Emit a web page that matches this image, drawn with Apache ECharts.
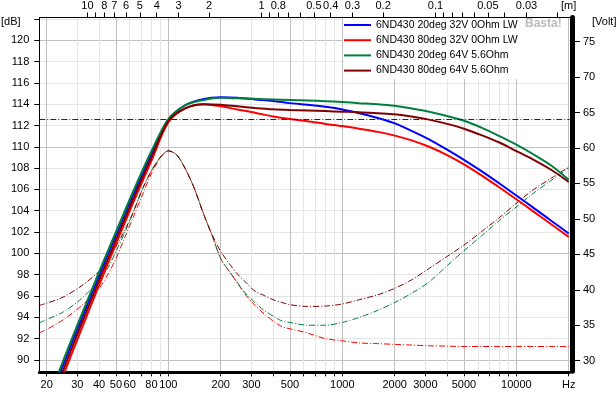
<!DOCTYPE html>
<html><head><meta charset="utf-8">
<script src="https://cdn.jsdelivr.net/npm/echarts@6/dist/echarts.min.js"></script>
<style>html,body{margin:0;padding:0;background:#fff}#c{width:616px;height:399px}</style>
</head><body><div id="c"></div>
<script>
// ---- data ----
const FREQ = [20,25,30,40,50,63,80,100,125,160,200,250,315,400,500,630,800,1000,1250,1600,2000,2500,3150,4000,5000,6300,8000,10000,12500,16000,20000];
const SPL_BLUE    = [85.5,89.6,92.85,97.9,101.7,105.55,109.35,112.5,113.9,114.5,114.65,114.6,114.45,114.3,114.1,113.95,113.75,113.5,113.15,112.7,112.2,111.5,110.7,109.73,108.77,107.71,106.55,105.43,104.29,103.01,101.86];
const SPL_RED     = [84.5,88.6,91.9,97.0,100.85,104.8,108.7,112.3,113.6,114.0,113.8,113.5,113.2,112.85,112.6,112.4,112.15,111.95,111.7,111.4,111.05,110.6,110.0,109.22,108.35,107.32,106.18,105.07,103.94,102.68,101.54];
const SPL_GREEN   = [85.9,90.0,93.25,98.25,102.0,105.85,109.6,112.6,113.9,114.4,114.6,114.55,114.5,114.45,114.4,114.35,114.28,114.2,114.1,114.0,113.85,113.6,113.3,112.9,112.45,111.8,111.0,110.2,109.3,108.2,106.9];
const SPL_DARKRED = [85.0,89.1,92.4,97.45,101.25,105.15,109.0,112.4,113.6,114.0,113.95,113.8,113.65,113.52,113.45,113.4,113.35,113.3,113.25,113.15,113.05,112.85,112.55,112.15,111.7,111.1,110.4,109.6,108.8,107.8,106.7];

const VFREQ = [18,20,25,31.5,40,45,50,56,63,71,80,90,100,112,125,140,160,180,200,224,250,280,315,355,400,450,500,630,800,1000,1250,1600,2000,2500,3150,4000,5000,6300,8000,10000,12500,16000,20000];
const VOLT_DARKRED = [37.8,38.1,39.0,40.5,42.6,44.2,46.1,48.3,51.0,54.2,56.8,58.7,59.6,59.0,57.1,54.5,50.6,47.6,45.4,43.7,42.2,41.0,39.8,39.2,38.6,38.2,37.9,37.65,37.7,38.0,38.6,39.3,40.2,41.4,43.0,44.7,46.3,48.2,50.2,52.2,54.1,55.8,57.3];
const VOLT_GREEN   = [35.3,35.8,36.9,38.7,41.3,43.1,45.4,48.0,51.0,54.2,56.8,58.7,59.6,59.0,57.1,54.5,50.6,47.4,44.4,42.6,41.0,39.4,38.2,37.1,36.3,35.6,35.4,35.0,35.0,35.4,36.1,37.1,38.2,39.5,41.1,43.4,45.5,47.6,49.8,51.7,53.6,55.5,57.2];
const VOLT_RED     = [33.9,34.4,35.8,37.7,40.2,42.2,44.4,47.3,50.3,53.4,56.4,58.6,59.6,59.0,57.1,54.5,50.6,47.4,44.4,42.6,40.9,39.2,37.8,36.6,35.6,34.8,34.5,33.9,33.1,32.8,32.5,32.4,32.3,32.2,32.1,32.05,32.0,32.0,32.0,32.0,32.0,32.0,32.0];
const VOLT_LIMIT = 64;

const NAMES = ['6ND430 20deg 32V 0Ohm LW','6ND430 80deg 32V 0Ohm LW','6ND430 20deg 64V 5.6Ohm','6ND430 80deg 64V 5.6Ohm'];

const X_TICKS = [20,30,40,50,60,70,80,90,100,200,300,400,500,600,700,800,900,1000,2000,3000,4000,5000,6000,7000,8000,9000,10000,20000];
const X_MAJOR = [20,50,100,200,500,1000,2000,5000,10000,20000];
const X_LABELS = [20,30,40,50,60,80,100,200,300,500,1000,2000,3000,5000,10000,20000];
const X_LABEL_TEXT = ['20','30','40','50','60','80','100','200','300','500','1000','2000','3000','5000','10000','Hz'];
const WL_TICKS = [10,9,8,7,6,5,4,3,2,1,0.9,0.8,0.7,0.6,0.5,0.4,0.3,0.2,0.1,0.09,0.08,0.07,0.06,0.05,0.04,0.03,0.02];
const WL_LABELS = [10,8,7,6,5,4,3,2,1,0.8,0.5,0.4,0.3,0.2,0.1,0.05,0.03];
const SOUND_SPEED = 343;
const DB_TICKS = [90,92,94,96,98,100,102,104,106,108,110,112,114,116,118,120,122];
const DB_MAJOR = [90,100,110,120];
const DB_LABELS = [90,92,94,96,98,100,102,104,106,108,110,112,114,116,118,120];
const V_TICKS = [30,35,40,45,50,55,60,65,70,75];

const F_MIN = 18.14, F_MAX = 20200;
const DB_MIN = 88.92, DB_MAX = 122.14;
const V_MIN = 28.5, V_MAX = 78.41;

// ---- build ----
const L = Math.log10;
const near = (arr, v) => arr.findIndex(a => Math.abs(a - v) < 1e-6);
const xT = X_TICKS.map(L);
const xLab = X_LABELS.map(L);
const wlT = WL_TICKS.map(w => L(SOUND_SPEED / w));
const wlLab = WL_LABELS.map(w => L(SOUND_SPEED / w));
const DARK = '#c0c0c0', LIGHT = '#e6e6e6';
const FONT = '"Liberation Sans", Arial, sans-serif';
const lbl = {color:'#000', fontSize:11, fontFamily:FONT};

const pts = (fs, vs) => fs.map((f, i) => [L(f), vs[i]]);
const DASHDOT = [6,2,1,2];
const COLORS = ['#0000ff','#ff0000','#008040','#800000'];
const SM = 0.3;

const chart = echarts.init(document.getElementById('c'), null, {renderer:'canvas'});
chart.setOption({
  animation:false,
  backgroundColor:'#fff',
  grid:{left:39.3, right:46.5, top:17.5, bottom:27.7, containLabel:false, outerBoundsMode:'none'},
  xAxis:[
    {type:'value', position:'bottom', min:L(F_MIN), max:L(F_MAX),
     axisLine:{show:true, onZero:false, lineStyle:{color:'#000', width:3}}, offset:1,
     axisTick:{show:true, customValues:xT, length:4, lineStyle:{color:'#000'}},
     axisLabel:{...lbl, margin:7, customValues:xLab, formatter:v => X_LABEL_TEXT[near(xLab, v)] ?? ''},
     splitLine:{show:true, lineStyle:{width:1, color:X_TICKS.map(t => X_MAJOR.includes(t) ? DARK : LIGHT)}}},
    {type:'value', position:'top', min:L(F_MIN), max:L(F_MAX),
     axisLine:{show:true, onZero:false, lineStyle:{color:'#000', width:1}},
     axisTick:{show:true, customValues:wlT, length:5, lineStyle:{color:'#000'}},
     axisLabel:{...lbl, margin:6, customValues:wlLab, formatter:v => { const i = near(wlLab, v); return i >= 0 ? String(WL_LABELS[i]) : ''; }},
     splitLine:{show:false}}
  ],
  yAxis:[
    {type:'value', position:'left', min:DB_MIN, max:DB_MAX,
     axisLine:{show:true, onZero:false, lineStyle:{color:'#000', width:1}},
     axisTick:{show:true, customValues:DB_TICKS, length:5, lineStyle:{color:'#000'}},
     axisLabel:{...lbl, margin:10, customValues:DB_LABELS, formatter:v => String(Math.round(v))},
     splitLine:{show:true, lineStyle:{width:1, color:DB_TICKS.map(t => DB_MAJOR.includes(t) ? DARK : LIGHT)}}},
    {type:'value', position:'right', min:V_MIN, max:V_MAX, offset:2.5,
     axisLine:{show:true, onZero:false, lineStyle:{color:'#000', width:5}},
     axisTick:{show:true, customValues:V_TICKS, length:8, lineStyle:{color:'#000'}},
     axisLabel:{...lbl, margin:11, customValues:V_TICKS, formatter:v => String(Math.round(v))},
     splitLine:{show:false}}
  ],
  legend:{orient:'vertical', left:344, top:18.5, padding:0, itemGap:2.2, itemWidth:27, itemHeight:2, icon:'rect', z:10,
    data:NAMES, textStyle:{color:'#000', fontSize:10.5, fontFamily:FONT, lineHeight:13}},
  graphic:[
    {type:'rect', left:343, top:18, shape:{width:225, height:61}, style:{fill:'#fff'}, z:3, silent:true},
    {type:'text', left:525, top:18, style:{text:'Basta!', fill:'#bcbcbc', font:'bold 12px '+FONT}, z:11},
    {type:'text', left:1, top:16, style:{text:'[dB]', fill:'#000', font:'11px '+FONT}},
    {type:'text', left:592, top:16, style:{text:'[Volt]', fill:'#000', font:'11px '+FONT}},
    {type:'text', left:561, top:0, style:{text:'[m]', fill:'#000', font:'11px '+FONT}}
  ],
  series:[
    {name:'V red', type:'line', yAxisIndex:1, data:pts(VFREQ, VOLT_RED), showSymbol:false, smooth:SM, lineStyle:{color:'#ff0000', width:1, type:DASHDOT}, z:1},
    {name:'V green', type:'line', yAxisIndex:1, data:pts(VFREQ, VOLT_GREEN), showSymbol:false, smooth:SM, lineStyle:{color:'#008040', width:1, type:DASHDOT}, z:1},
    {name:'V darkred', type:'line', yAxisIndex:1, data:pts(VFREQ, VOLT_DARKRED), showSymbol:false, smooth:SM, lineStyle:{color:'#800000', width:1, type:DASHDOT}, z:1,
     markLine:{silent:true, symbol:'none', label:{show:false}, lineStyle:{color:'#800000', width:1, type:DASHDOT}, data:[{yAxis:VOLT_LIMIT}]}},
    {name:NAMES[0], type:'line', data:pts(FREQ, SPL_BLUE), showSymbol:false, smooth:SM, color:COLORS[0], lineStyle:{color:COLORS[0], width:2}, z:2},
    {name:NAMES[1], type:'line', data:pts(FREQ, SPL_RED), showSymbol:false, smooth:SM, color:COLORS[1], lineStyle:{color:COLORS[1], width:2}, z:2},
    {name:NAMES[2], type:'line', data:pts(FREQ, SPL_GREEN), showSymbol:false, smooth:SM, color:COLORS[2], lineStyle:{color:COLORS[2], width:2}, z:2},
    {name:NAMES[3], type:'line', data:pts(FREQ, SPL_DARKRED), showSymbol:false, smooth:SM, color:COLORS[3], lineStyle:{color:COLORS[3], width:2}, z:2}
  ]
});
</script></body></html>
